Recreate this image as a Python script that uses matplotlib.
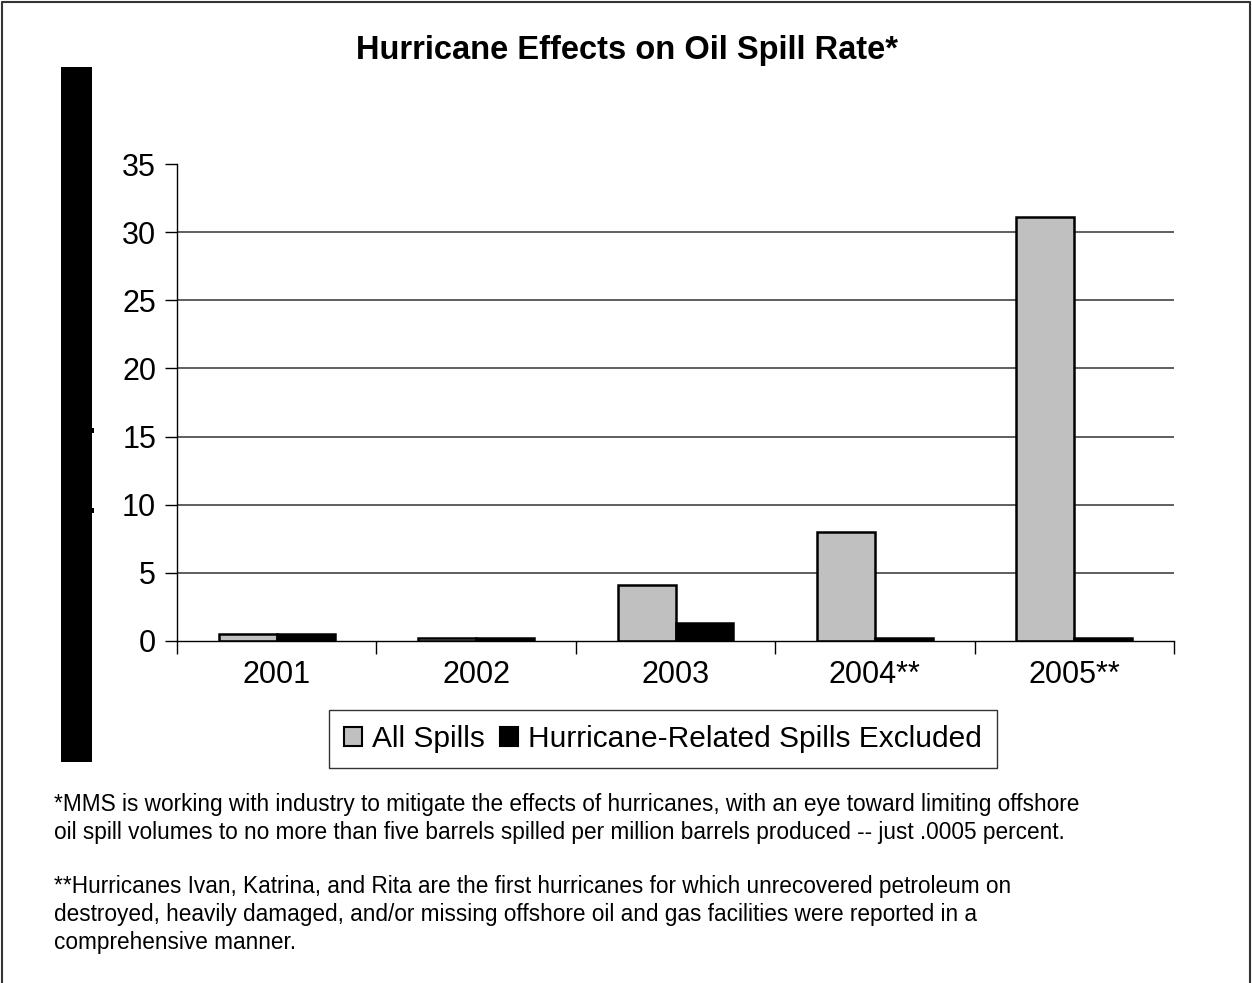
import matplotlib
matplotlib.use("Agg")
import matplotlib.pyplot as plt
from matplotlib.patches import Rectangle, Patch
from matplotlib.lines import Line2D
import numpy as np

plt.rcParams['font.family'] = ['Liberation Sans', 'DejaVu Sans']

years = ['2001', '2002', '2003', '2004**', '2005**']
all_spills = [0.5, 0.25, 4.1, 8.0, 31.1]
excluded = [0.5, 0.25, 1.3, 0.25, 0.25]
yticks = [0, 5, 10, 15, 20, 25, 30, 35]

title = "Hurricane Effects on Oil Spill Rate*"
legend_labels = ["All Spills", "Hurricane-Related Spills Excluded"]
notes = [
    "*MMS is working with industry to mitigate the effects of hurricanes, with an eye toward limiting offshore",
    "oil spill volumes to no more than five barrels spilled per million barrels produced -- just .0005 percent.",
    "**Hurricanes Ivan, Katrina, and Rita are the first hurricanes for which unrecovered petroleum on",
    "destroyed, heavily damaged, and/or missing offshore oil and gas facilities were reported in a",
    "comprehensive manner.",
]

W, H = 1252, 983
fig = plt.figure(figsize=(W / 100, H / 100), dpi=100)
fig.patch.set_facecolor('white')

ax = fig.add_axes([177 / W, 1 - 641 / H, (1174 - 177) / W, (641 - 164) / H])
x = np.arange(len(years))
bw = 0.29
ax.bar(x - bw / 2, all_spills, bw, color='#C0C0C0', edgecolor='black', linewidth=1.8, zorder=3)
ax.bar(x + bw / 2, excluded, bw, color='black', edgecolor='black', linewidth=1.8, zorder=3)

ax.set_xlim(-0.5, len(years) - 0.5)
ax.set_ylim(0, 35)
ax.set_yticks(yticks)
ax.set_yticklabels([str(v) for v in yticks], fontsize=22)
for v in yticks[1:-1]:
    ax.axhline(v, color='#333333', linewidth=1.1, zorder=1)

ax.set_xticks(x)
ax.set_xticklabels(years, fontsize=22)
ax.tick_params(axis='x', which='major', length=0, pad=14)
ax.set_xticks(np.arange(-0.5, len(years)), minor=True)
ax.tick_params(axis='x', which='minor', length=9, width=1, direction='out')
ax.tick_params(axis='y', length=9, width=1, direction='out', pad=6)

for s in ['top', 'right']:
    ax.spines[s].set_visible(False)
ax.spines['left'].set_linewidth(1)
ax.spines['bottom'].set_linewidth(1)
ax.spines['bottom'].set_zorder(4)

fig.text(627 / W, 1 - 50 / H, title, ha='center', va='center', fontsize=23.5, fontweight='bold')

# black vertical block on left (with two small notches)
for (x0, y0, w, h) in [(61, 67, 31, 695), (92, 428, 2, 5), (92, 508, 2, 5)]:
    fig.patches.append(Rectangle((x0 / W, 1 - (y0 + h) / H), w / W, h / H,
                                 transform=fig.transFigure, facecolor='black', edgecolor='none'))

# legend
handles = [Patch(facecolor='#C0C0C0', edgecolor='black', linewidth=1.5),
           Patch(facecolor='black', edgecolor='black', linewidth=1.5)]
leg = fig.legend(handles, legend_labels, loc='center', bbox_to_anchor=(663 / W, 1 - 739 / H),
                 ncol=2, fontsize=21.5, frameon=True, fancybox=False, edgecolor='black',
                 handlelength=0.6, handleheight=0.6, handletextpad=0.35, columnspacing=0.5,
                 borderpad=0.5, borderaxespad=0)
leg.get_frame().set_linewidth(1)

ys = [805, 833, 886, 914, 942]
for t, yy in zip(notes, ys):
    fig.text(54 / W, 1 - yy / H, t, ha='left', va='center', fontsize=16.3)

# outer border (left, top, right)
fig.add_artist(Line2D([2 / W, 2 / W, 1250 / W, 1250 / W], [0, 1 - 2 / H, 1 - 2 / H, 0],
                      transform=fig.transFigure, color='#333333', linewidth=1.5))

fig.savefig('out.png', dpi=100)
